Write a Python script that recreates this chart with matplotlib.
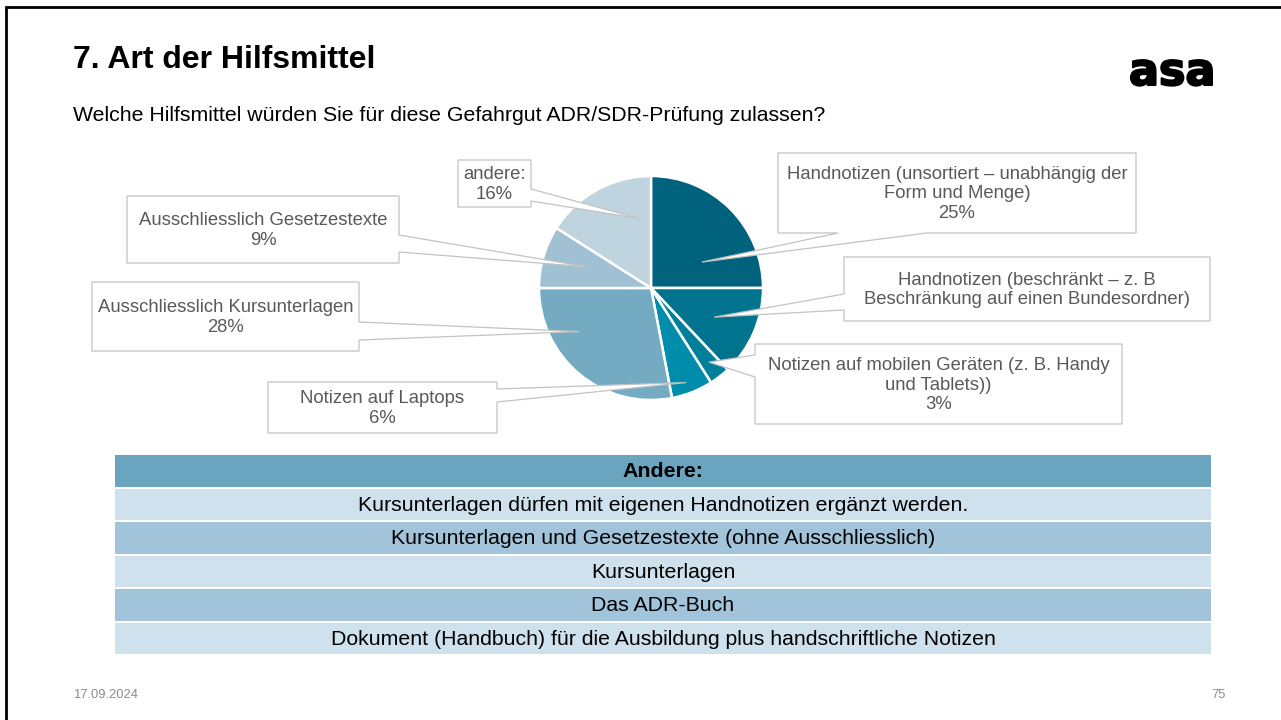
import matplotlib
matplotlib.use('Agg')
import matplotlib.pyplot as plt
import matplotlib.patheffects as pe
from matplotlib.patches import Polygon, Rectangle
import numpy as np

plt.rcParams['font.family'] = ['Liberation Sans', 'DejaVu Sans']

W, H = 1281, 720

TITLE = '7. Art der Hilfsmittel'
SUBTITLE = 'Welche Hilfsmittel würden Sie für diese Gefahrgut ADR/SDR-Prüfung zulassen?'
LOGO = 'asa'
DATE = '17.09.2024'
PAGE = '75'

# pie slices, clockwise from 12 o'clock
slice_labels = [
    'Handnotizen (unsortiert – unabhängig der\nForm und Menge)',
    'Handnotizen (beschränkt – z. B\nBeschränkung auf einen Bundesordner)',
    'Notizen auf mobilen Geräten (z. B. Handy\nund Tablets))',
    'Notizen auf Laptops',
    'Ausschliesslich Kursunterlagen',
    'Ausschliesslich Gesetzestexte',
    'andere:',
]
slice_values = [25, 13, 3, 6, 28, 9, 16]
show_pct = [True, False, True, True, True, True, True]
slice_colors = ['#00627D', '#00748F', '#007F9A', '#008DAC',
                '#75AAC3', '#A0C0D3', '#BFD4DF']

table_header = 'Andere:'
table_rows = [
    'Kursunterlagen dürfen mit eigenen Handnotizen ergänzt werden.',
    'Kursunterlagen und Gesetzestexte (ohne Ausschliesslich)',
    'Kursunterlagen',
    'Das ADR-Buch',
    'Dokument (Handbuch) für die Ausbildung plus handschriftliche Notizen',
]

# callout layout: box (x0, y0, x1, y1) in slide pixels, side of the tail,
# tail base along that side, tip position inside the slice (angle frac, radius frac)
callout_boxes = [(778, 153, 1136, 233), (844, 257, 1210, 321), (755, 344, 1122, 424),
                 (268, 382, 497, 433), (92, 282, 359, 351), (127, 196, 399, 263),
                 (458, 160, 531, 207)]
callout_sides = ['bottom', 'left', 'left', 'right', 'right', 'right', 'right']
callout_bases = [(838, 927), (294, 310), (355, 377), (389, 402), (322, 340),
                 (235, 252), (189, 201)]
callout_tips = [(0.30, 0.51), (0.47, 0.62), (0.52, 0.84), (0.44, 0.90),
                (0.31, 0.75), (0.44, 0.61), (0.17, 0.63)]

TEXT_GREY = '#595959'
BOX_EDGE = '#C3C3C3'


def Y(y):
    return H - y


def callout_polygon(box, side, base, tip):
    x0, y0, x1, y1 = box
    a, b = base
    if side == 'left':
        pts = [(x0, y0), (x1, y0), (x1, y1), (x0, y1), (x0, b), tip, (x0, a)]
    elif side == 'right':
        pts = [(x0, y0), (x1, y0), (x1, a), tip, (x1, b), (x1, y1), (x0, y1)]
    else:
        pts = [(x0, y0), (x1, y0), (x1, y1), (b, y1), tip, (a, y1), (x0, y1)]
    return [(px, Y(py)) if (px, py) != tip else tip for px, py in pts]


fig = plt.figure(figsize=(W / 100, H / 100), dpi=100)
ax = fig.add_axes([0, 0, 1, 1])

wedges, _ = ax.pie(slice_values, colors=slice_colors, startangle=90, counterclock=False,
                   center=(651, Y(288)), radius=112,
                   wedgeprops=dict(edgecolor='white', linewidth=1.8))

ax.set_xlim(0, W)
ax.set_ylim(0, H)
ax.set_aspect('auto')
ax.axis('off')

# callouts with tails pointing into the slices
for i, w in enumerate(wedges):
    frac, rfrac = callout_tips[i]
    ang = np.radians(w.theta1 + frac * (w.theta2 - w.theta1))
    cx, cy = w.center
    tip = (cx + rfrac * w.r * np.cos(ang), cy + rfrac * w.r * np.sin(ang))
    poly = Polygon(callout_polygon(callout_boxes[i], callout_sides[i],
                                   callout_bases[i], tip),
                   closed=True, facecolor='white', edgecolor=BOX_EDGE,
                   linewidth=0.9, zorder=3)
    ax.add_patch(poly)
    txt = slice_labels[i]
    if show_pct[i]:
        txt += f'\n{slice_values[i]}%'
    x0, y0, x1, y1 = callout_boxes[i]
    ax.text((x0 + x1) / 2, Y((y0 + y1) / 2 + 1), txt, ha='center', va='center',
            multialignment='center', fontsize=13.3, color=TEXT_GREY,
            linespacing=1.17, zorder=4)

# table with the "andere" answers
row_top, row_pitch, row_h = 455, 33.5, 31.5
tab_x0, tab_x1 = 115, 1211
cells = [table_header] + table_rows
for i, txt in enumerate(cells):
    top = row_top + i * row_pitch
    if i == 0:
        fc = '#6AA4BF'
    elif i % 2 == 1:
        fc = '#CFE1EC'
    else:
        fc = '#A1C4DA'
    ax.add_patch(Rectangle((tab_x0, Y(top + row_h)), tab_x1 - tab_x0, row_h,
                           facecolor=fc, edgecolor='none', zorder=1))
    ax.text((tab_x0 + tab_x1) / 2, Y(top + row_h / 2 + 1), txt, ha='center', va='center',
            fontsize=15.3, color='black', fontweight='bold' if i == 0 else 'normal',
            zorder=2)

# slide decoration
ax.text(73, Y(68), TITLE, fontsize=23, fontweight='bold', color='black', va='baseline')
ax.text(73, Y(121), SUBTITLE, fontsize=15.3, color='black', va='baseline')
ax.text(1129, Y(85), LOGO, fontsize=32, fontweight='bold', family='DejaVu Sans',
        color='black', va='baseline',
        path_effects=[pe.withStroke(linewidth=1.5, foreground='black')])
ax.text(73, Y(698), DATE, fontsize=9.4, color='#8C8C8C', va='baseline')
ax.text(1226, Y(698), PAGE, fontsize=9.4, color='#8C8C8C', va='baseline', ha='right')

ax.plot([5, W], [Y(7), Y(7)], color='black', linewidth=2, solid_capstyle='butt')
ax.plot([6, 6], [Y(6), 0], color='black', linewidth=2, solid_capstyle='butt')

fig.savefig('out.png', dpi=100)
